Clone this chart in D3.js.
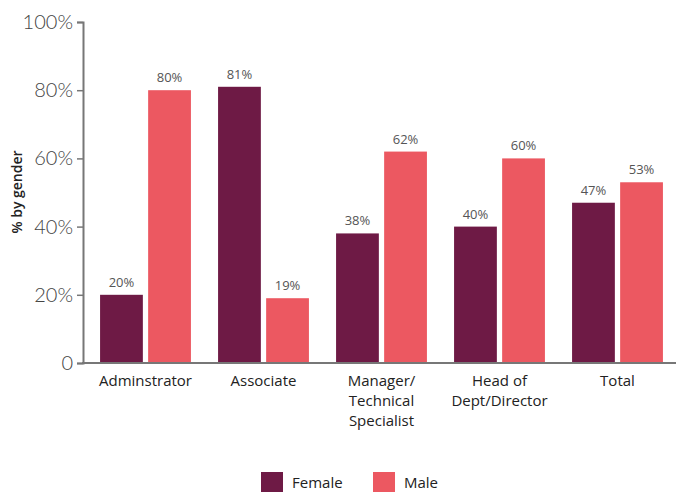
<!DOCTYPE html>
<html>
<head>
<meta charset="utf-8">
<script src="https://cdn.jsdelivr.net/npm/d3@7"></script>
<style>
  html, body { margin: 0; padding: 0; background: #fff; }
  svg { display: block; }
  text { font-family: "Open Sans", "Lato", sans-serif; }
</style>
</head>
<body>
<svg id="chart" width="676" height="493"></svg>
<script>
// Share of staff by gender in each role
const categories = [
  ["Adminstrator"],
  ["Associate"],
  ["Manager/", "Technical", "Specialist"],
  ["Head of", "Dept/Director"],
  ["Total"]
];
const seriesNames = ["Female", "Male"];
const female = [20, 81, 38, 40, 47];
const male = [80, 19, 62, 60, 53];
const yTicks = [0, 20, 40, 60, 80, 100];
const colors = ["#6e1a45", "#ec5861"];

const rows = categories.map((c, i) => ({ key: c.join(" "), lines: c, values: [female[i], male[i]] }));

const svg = d3.select("#chart");

const x = d3.scaleBand()
  .domain(rows.map(d => d.key))
  .range([86.5, 676.5])
  .paddingInner(0.23)
  .paddingOuter(0.115);

const xs = d3.scaleBand()
  .domain(seriesNames)
  .range([0, x.bandwidth()])
  .paddingInner(0.11);

const y = d3.scaleLinear().domain([0, 100]).range([363, 22]);

// bars
const groups = svg.append("g").selectAll("g")
  .data(rows).join("g")
  .attr("transform", d => `translate(${x(d.key)},0)`);

groups.selectAll("rect")
  .data(d => d.values.map((v, j) => ({ name: seriesNames[j], v, j })))
  .join("rect")
  .attr("x", d => xs(d.name))
  .attr("y", d => y(d.v))
  .attr("width", xs.bandwidth())
  .attr("height", d => y(0) - y(d.v))
  .attr("fill", d => colors[d.j]);

groups.selectAll("text.val")
  .data(d => d.values.map((v, j) => ({ name: seriesNames[j], v, j })))
  .join("text")
  .attr("class", "val")
  .attr("x", d => xs(d.name) + xs.bandwidth() / 2)
  .attr("y", d => y(d.v) - 8)
  .attr("text-anchor", "middle")
  .attr("font-size", 13)
  .attr("fill", "#555")
  .text(d => d.v + "%");

// y axis
const yAxis = d3.axisLeft(y)
  .tickValues(yTicks)
  .tickSize(6)
  .tickPadding(4)
  .tickFormat(d => d === 0 ? "0" : d + "%");

const ya = svg.append("g")
  .attr("transform", "translate(83,0)")
  .call(yAxis);
ya.select(".domain").attr("stroke", "#777").attr("stroke-width", 2);
ya.selectAll(".tick line").attr("stroke", "#777").attr("stroke-width", 1.5);
ya.selectAll(".tick text")
  .attr("font-size", 20)
  .attr("font-weight", 300)
  .attr("fill", "#444")
  .style("font-family", "Lato, sans-serif");

// x baseline
svg.append("line")
  .attr("x1", 82).attr("x2", 676)
  .attr("y1", y(0)).attr("y2", y(0))
  .attr("stroke", "#777").attr("stroke-width", 2);

// category labels
const cl = svg.append("g").selectAll("text")
  .data(rows).join("text")
  .attr("x", d => x(d.key) + x.bandwidth() / 2)
  .attr("y", 386)
  .attr("text-anchor", "middle")
  .attr("font-size", 15)
  .attr("fill", "#222");
cl.selectAll("tspan")
  .data(d => d.lines)
  .join("tspan")
  .attr("x", function () { return d3.select(this.parentNode).attr("x"); })
  .attr("dy", (d, i) => i === 0 ? 0 : 20)
  .text(d => d);

// y axis title
svg.append("text")
  .attr("transform", "translate(22,192) rotate(-90)")
  .attr("text-anchor", "middle")
  .attr("font-size", 14)
  .attr("font-weight", 600)
  .attr("fill", "#222")
  .text("% by gender");

// legend
const legendX = [261, 373];
const lg = svg.append("g").selectAll("g")
  .data(seriesNames).join("g")
  .attr("transform", (d, i) => `translate(${legendX[i]},472)`);
lg.append("rect")
  .attr("width", 22).attr("height", 20)
  .attr("fill", (d, i) => colors[i]);
lg.append("text")
  .attr("x", 31).attr("y", 16)
  .attr("font-size", 15)
  .attr("fill", "#222")
  .text(d => d);
</script>
</body>
</html>
